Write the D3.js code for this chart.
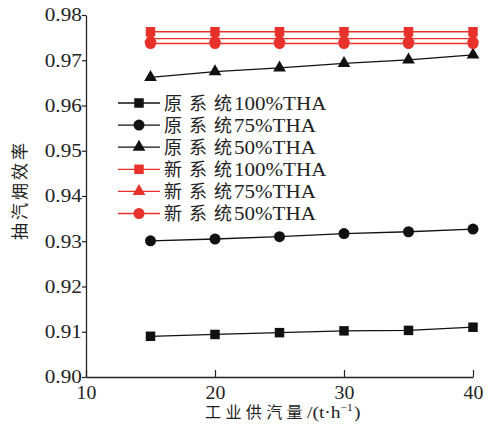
<!DOCTYPE html>
<html>
<head>
<meta charset="utf-8">
<script src="https://cdn.jsdelivr.net/npm/d3@7"></script>
<style>
  body { margin: 0; background: #fff; }
  svg text { font-family: "Liberation Serif", "Noto Sans CJK SC", serif; fill: #222; }
</style>
</head>
<body>
<svg width="488" height="435"></svg>
<script>
const xValues = [15, 20, 25, 30, 35, 40];
const xTicks = [10, 20, 30, 40];
const yTicks = [0.90, 0.91, 0.92, 0.93, 0.94, 0.95, 0.96, 0.97, 0.98];

const seriesNames = [["原系", "统", "100%THA"], ["原系", "统", "75%THA"], ["原系", "统", "50%THA"],
                     ["新系", "统", "100%THA"], ["新系", "统", "75%THA"], ["新系", "统", "50%THA"]];
const seriesColors = ["#111", "#111", "#111", "#e8312b", "#e8312b", "#e8312b"];
const seriesSymbols = ["square", "circle", "triangle", "square", "triangle", "circle"];

const old100 = [0.9090, 0.9094, 0.9098, 0.9102, 0.9103, 0.9110];
const old75 = [0.9301, 0.9305, 0.9310, 0.9317, 0.9321, 0.9327];
const old50 = [0.9662, 0.9675, 0.9683, 0.9693, 0.9701, 0.9712];
const new100 = [0.9763, 0.9763, 0.9763, 0.9763, 0.9763, 0.9763];
const new75 = [0.9748, 0.9748, 0.9748, 0.9748, 0.9748, 0.9748];
const new50 = [0.9737, 0.9737, 0.9737, 0.9737, 0.9737, 0.9737];
const seriesValues = [old100, old75, old50, new100, new75, new50];

const FONT = '"Liberation Serif", "Noto Sans CJK SC", serif';

const svg = d3.select("svg");
const margin = {top: 15, left: 86, right: 15, bottom: 58};
const g = svg.append("g").attr("transform", "translate(" + margin.left + "," + margin.top + ")");

const x = d3.scaleLinear().domain([10, 40]).range([0, 387]);
const y = d3.scaleLinear().domain([0.90, 0.98]).range([362, 0]);

// x axis, ticks pointing inward
const xAxis = g.append("g")
    .call(d3.axisBottom(x).tickValues(xTicks).tickSizeInner(-7).tickSizeOuter(0).tickPadding(9))
    .attr("transform", "translate(0,362)")
    .attr("font-family", FONT);
xAxis.select(".domain").attr("stroke", "#222").attr("stroke-width", 1.3);
xAxis.selectAll(".tick line").attr("stroke", "#222").attr("stroke-width", 1.2);
xAxis.selectAll("text").attr("font-size", 18).attr("transform", "scale(1.1,1)").attr("fill", "#222");

// y axis, short ticks pointing outward
const yAxis = g.append("g")
    .call(d3.axisLeft(y).tickValues(yTicks).tickFormat(d3.format(".2f")).tickSizeInner(4).tickSizeOuter(0).tickPadding(-0.5))
    .attr("font-family", FONT);
yAxis.select(".domain").attr("stroke", "#222").attr("stroke-width", 1.3);
yAxis.selectAll(".tick line").attr("stroke", "#222").attr("stroke-width", 1.2);
yAxis.selectAll("text").attr("font-size", 18).attr("transform", "scale(1.18,1)").attr("fill", "#222");

function symbolPath(type) {
  if (type === "square") return d3.symbol().type(d3.symbolSquare).size(90)();
  if (type === "circle") return d3.symbol().type(d3.symbolCircle).size(95)();
  return d3.symbol().type(d3.symbolTriangle).size(70)();
}

const line = d3.line().x(d => x(d[0])).y(d => y(d[1]));

seriesValues.forEach((vals, i) => {
  const pts = xValues.map((xv, j) => [xv, vals[j]]);
  const sg = g.append("g");
  sg.append("path")
    .datum(pts)
    .attr("d", line)
    .attr("fill", "none")
    .attr("stroke", seriesColors[i])
    .attr("stroke-width", 1.3);
  sg.selectAll("path.mark")
    .data(pts)
    .enter().append("path")
    .attr("class", "mark")
    .attr("d", symbolPath(seriesSymbols[i]))
    .attr("transform", d => "translate(" + x(d[0]) + "," + y(d[1]) + ")")
    .attr("fill", seriesColors[i]);
});

// legend
const legend = g.append("g").attr("transform", "translate(32,88)");
seriesNames.forEach((name, i) => {
  const row = legend.append("g").attr("transform", "translate(0," + (i * 22.1) + ")");
  row.append("line")
    .attr("x1", 0).attr("x2", 42).attr("y1", 0).attr("y2", 0)
    .attr("stroke", seriesColors[i]).attr("stroke-width", 1.3);
  row.append("path")
    .attr("d", symbolPath(seriesSymbols[i]))
    .attr("transform", "translate(21,0)")
    .attr("fill", seriesColors[i]);
  const t = row.append("text")
    .attr("x", 46).attr("y", 6.5)
    .attr("font-family", FONT)
    .attr("font-size", 18);
  t.append("tspan").attr("letter-spacing", 7).text(name[0]);
  t.append("tspan").text(name[1]);
  // stretch the latin part a little, as in the reference
  row.append("text")
    .attr("transform", "translate(116,6.5) scale(1.17,1)")
    .attr("font-family", FONT)
    .attr("font-size", 18)
    .text(name[2]);
});

// axis titles
svg.append("text")
  .attr("transform", "translate(26,190) rotate(-90)")
  .attr("text-anchor", "middle")
  .attr("font-family", FONT)
  .attr("font-size", 17)
  .attr("letter-spacing", 3)
  .text("抽汽㶲效率");

const xt = svg.append("text")
  .attr("x", 205).attr("y", 418)
  .attr("font-family", FONT)
  .attr("font-size", 16);
xt.append("tspan").attr("letter-spacing", 4.4).text("工业供汽量");
const xt2 = svg.append("text")
  .attr("transform", "translate(307,418) scale(1.15,1)")
  .attr("font-family", FONT)
  .attr("font-size", 17);
xt2.append("tspan").text("/(t·h");
xt2.append("tspan").attr("dy", -7).attr("font-size", 10).text("−1");
xt2.append("tspan").attr("dy", 7).attr("dx", 1).text(")");
</script>
</body>
</html>
